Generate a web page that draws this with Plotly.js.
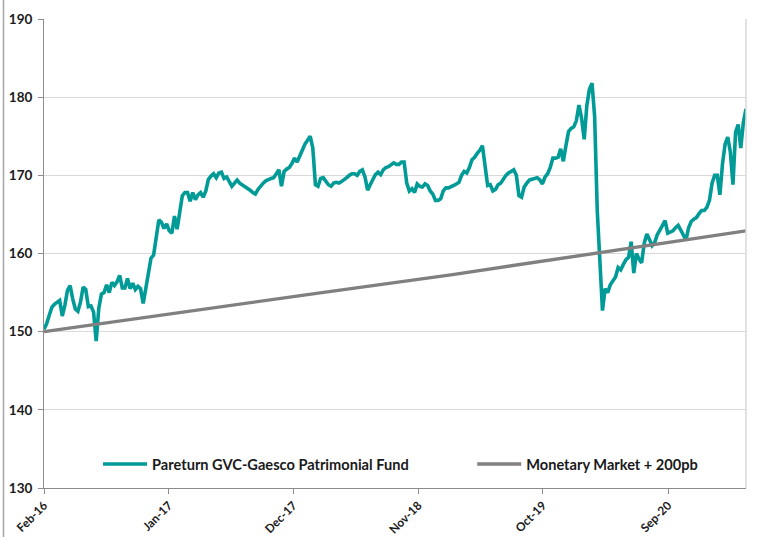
<!DOCTYPE html>
<html>
<head>
<meta charset="utf-8">
<script src="https://cdn.plot.ly/plotly-3.0.1.min.js"></script>
<style>html,body{margin:0;padding:0;background:#fff;}#chart{width:758px;height:537px;}</style>
</head>
<body>
<div id="chart"></div>
<script>
// Weekly observations starting 2016-02-01
const fundStart = '2016-02-01';
const fundName = 'Pareturn GVC-Gaesco Patrimonial Fund';
const fundValues = [
150.3,151.0,152.1,153.1,153.5,153.8,154.0,152.0,153.4,155.3,
155.9,154.2,152.9,152.6,153.8,155.7,155.4,153.2,153.3,152.5,
148.8,153.0,154.8,155.0,156.0,155.0,156.3,155.9,156.4,157.2,
155.6,155.6,156.8,155.5,156.2,155.4,155.8,155.5,153.6,155.5,
157.8,159.4,159.8,162.0,164.3,164.0,163.2,163.8,162.9,162.6,
164.8,163.1,165.0,167.4,167.8,167.8,166.7,167.8,166.9,167.5,
167.8,167.2,168.0,169.5,169.9,170.2,169.7,170.3,170.4,169.6,
169.8,169.3,168.6,169.0,169.4,169.0,168.8,168.6,168.4,168.1,
167.8,167.6,168.2,168.7,169.0,169.3,169.5,169.6,169.7,170.2,
170.7,168.6,170.5,170.8,171.0,171.5,172.2,171.7,172.5,173.4,
174.0,174.5,175.0,173.5,168.8,168.6,169.6,169.7,169.2,168.8,
168.6,169.0,169.1,169.0,169.2,169.4,169.7,170.0,170.2,170.2,
170.0,170.5,170.7,169.8,168.1,168.8,169.5,170.1,170.4,170.1,
170.7,171.0,171.1,171.4,171.6,171.4,171.4,171.7,171.7,169.0,
168.0,168.3,167.8,168.9,168.6,168.5,168.9,168.7,168.0,167.6,
166.8,166.8,167.0,168.0,168.4,168.4,168.5,168.7,168.9,169.1,
170.0,170.5,170.3,171.0,172.0,172.3,172.8,173.2,173.8,171.0,
168.7,168.8,168.0,168.2,168.8,169.0,169.6,170.0,170.3,170.5,
170.7,170.0,167.4,167.2,168.5,169.0,169.4,169.5,169.6,169.7,
169.4,168.9,169.8,170.2,171.0,172.2,172.2,172.3,173.4,171.8,
173.8,175.6,176.0,176.2,177.0,179.0,177.3,174.6,178.9,181.0,
181.8,177.5,165.5,158.0,152.7,155.5,155.0,156.0,156.6,157.0,
158.2,157.9,158.6,159.2,159.5,161.5,157.5,160.0,159.3,158.8,
161.3,162.5,161.8,161.0,161.4,162.4,163.0,163.6,164.2,162.6,
162.7,162.9,163.3,163.6,163.0,162.3,161.7,163.3,164.1,164.4,
164.6,165.1,165.5,165.5,165.9,166.8,169.0,170.0,170.0,167.5,
171.5,174.0,174.9,173.0,168.8,175.5,176.5,173.5,176.8,178.5
];

const mmName = 'Monetary Market + 200pb';
const mmDates = ['2016-02-01','2017-02-01','2018-02-01','2019-02-01','2020-02-01','2021-02-01','2021-03-29'];
const mmValues = [150.0,152.4,154.9,157.3,159.9,162.4,162.9];

const tickDates = ['2016-02-01','2017-01-01','2017-12-01','2018-11-01','2019-10-01','2020-09-01'];
const yTicks = [130,140,150,160,170,180,190];

function addDays(iso, n){
  const d = new Date(iso + 'T00:00:00Z');
  d.setUTCDate(d.getUTCDate() + n);
  return d.toISOString().slice(0,10);
}
const fundDates = fundValues.map((v,i)=>addDays(fundStart, 7*i));

const FONT = 'Lato, "Open Sans", Arial, sans-serif';
const traces = [
  {x: fundDates, y: fundValues, name: fundName, type:'scatter', mode:'lines',
   line:{color:'#009a97', width:3.6}, legend:'legend'},
  {x: mmDates, y: mmValues, name: mmName, type:'scatter', mode:'lines',
   line:{color:'#808080', width:3.4}, legend:'legend2'}
];

const legendCommon = {orientation:'h', bgcolor:'rgba(0,0,0,0)', borderwidth:0,
  font:{family:FONT, size:14.6, color:'#1a1a1a', weight:'bold'}, yanchor:'middle', xanchor:'left', itemwidth:44};

const layout = {
  width:758, height:537,
  margin:{l:44, r:12, t:19, b:49, pad:0},
  paper_bgcolor:'#ffffff', plot_bgcolor:'#ffffff',
  font:{family:FONT, color:'#1a1a1a'},
  showlegend:true,
  legend: Object.assign({x:0.077, y:0.051}, legendCommon),
  legend2: Object.assign({x:0.610, y:0.051}, legendCommon),
  xaxis:{type:'date', range:['2016-02-01','2021-03-29'], tickvals:tickDates, tickformat:'%b-%y',
    tickangle:-45, showgrid:false, zeroline:false, showline:true, linecolor:'#8c8c8c', linewidth:1,
    ticks:'outside', ticklen:5, tickcolor:'#8c8c8c',
    tickfont:{family:FONT, size:11.8, color:'#1a1a1a', weight:'bold'}},
  yaxis:{range:[130,190], tickvals:yTicks, showgrid:true, gridcolor:'#d9d9d9', gridwidth:1,
    zeroline:false, showline:true, linecolor:'#8c8c8c', linewidth:1,
    ticks:'outside', ticklen:5, tickcolor:'#8c8c8c', ticklabelstandoff:3,
    tickfont:{family:FONT, size:13.5, color:'#1a1a1a', weight:'bold'}},
  shapes:[
    {type:'line', xref:'paper', yref:'paper', x0:1, x1:1, y0:0, y1:1, line:{color:'#d9d9d9', width:1.5}},
    {type:'line', xref:'paper', yref:'paper', x0:-0.0577, x1:-0.0577, y0:-0.11, y1:1.05, line:{color:'#a6a6a6', width:1.5}}
  ]
};

Plotly.newPlot('chart', traces, layout, {displayModeBar:false, staticPlot:true});
</script>
</body>
</html>
